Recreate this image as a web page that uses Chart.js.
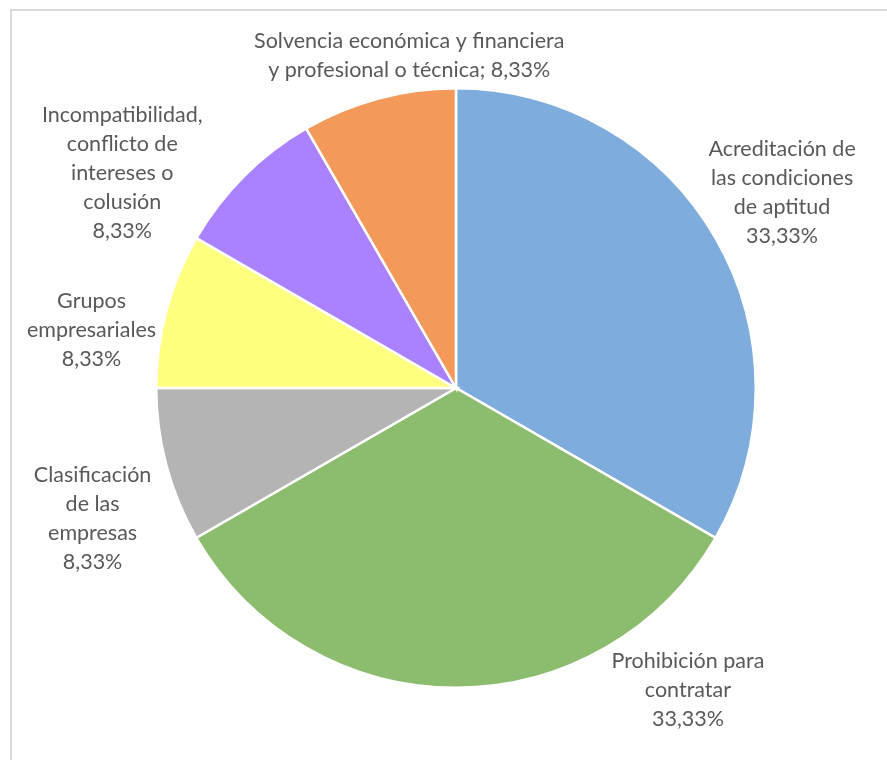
<!DOCTYPE html>
<html>
<head>
<meta charset="utf-8">
<script src="https://cdn.jsdelivr.net/npm/chart.js@4"></script>
<style>
  html, body { margin: 0; padding: 0; background: #fff; }
  canvas { display: block; }
</style>
</head>
<body>
<canvas id="c" width="887" height="760"></canvas>
<script>
const categories = [
  ["Acreditación de", "las condiciones", "de aptitud"],
  ["Prohibición para", "contratar"],
  ["Clasificación", "de las", "empresas"],
  ["Grupos", "empresariales"],
  ["Incompatibilidad,", "conflicto de", "intereses o", "colusión"],
  ["Solvencia económica y financiera", "y profesional o técnica;"]
];
const values = [33.33, 33.33, 8.33, 8.33, 8.33, 8.33];
const valueLabels = ["33,33%", "33,33%", "8,33%", "8,33%", "8,33%", "8,33%"];
const colors = ["#7DACDD", "#8CBC6E", "#B4B4B4", "#FFFF80", "#AA82FF", "#F39A5B"];

// label placement: angle (deg, canvas) and distance from centre
const labelPlacement = [
  { ang: -30.9, dist: 380 },
  { ang: 52.5, dist: 381 },
  { ang: 160.3, dist: 386 },
  { ang: 189.0, dist: 369 },
  { ang: 212.8, dist: 397 },
  { ang: 262.0, dist: 336, inline: true }
];

const frame = {
  id: 'frame',
  beforeDraw(chart) {
    const ctx = chart.ctx;
    ctx.save();
    ctx.strokeStyle = '#D9D9D9';
    ctx.lineWidth = 2;
    ctx.strokeRect(11, 10, 1000, 1000);
    ctx.restore();
  }
};

const labels = {
  id: 'outLabels',
  afterDatasetsDraw(chart) {
    const ctx = chart.ctx;
    const arc = chart.getDatasetMeta(0).data[0];
    const cx = arc.x, cy = arc.y;
    ctx.save();
    ctx.font = '21.5px Lato, "Open Sans", sans-serif';
    ctx.fillStyle = '#595959';
    ctx.textAlign = 'center';
    ctx.textBaseline = 'middle';
    const lh = 29;
    categories.forEach((cat, i) => {
      const p = labelPlacement[i];
      const a = p.ang * Math.PI / 180;
      const x = cx + Math.cos(a) * p.dist;
      const y = cy + Math.sin(a) * p.dist;
      let lines;
      if (p.inline) {
        lines = cat.slice(0, -1).concat([cat[cat.length - 1] + ' ' + valueLabels[i]]);
      } else {
        lines = cat.concat([valueLabels[i]]);
      }
      const y0 = y - (lines.length - 1) * lh / 2;
      lines.forEach((t, k) => ctx.fillText(t, x, y0 + k * lh));
    });
    ctx.restore();
  }
};

new Chart(document.getElementById('c'), {
  type: 'pie',
  data: {
    labels: categories.map(c => c.join(' ')),
    datasets: [{
      data: values,
      backgroundColor: colors,
      borderColor: '#FFFFFF',
      borderWidth: 2.5,
      borderJoinStyle: 'miter'
    }]
  },
  options: {
    responsive: false,
    animation: false,
    layout: { padding: { left: 155, right: 130, top: 87, bottom: 71 } },
    plugins: {
      legend: { display: false },
      tooltip: { enabled: false }
    }
  },
  plugins: [frame, labels]
});
</script>
</body>
</html>
